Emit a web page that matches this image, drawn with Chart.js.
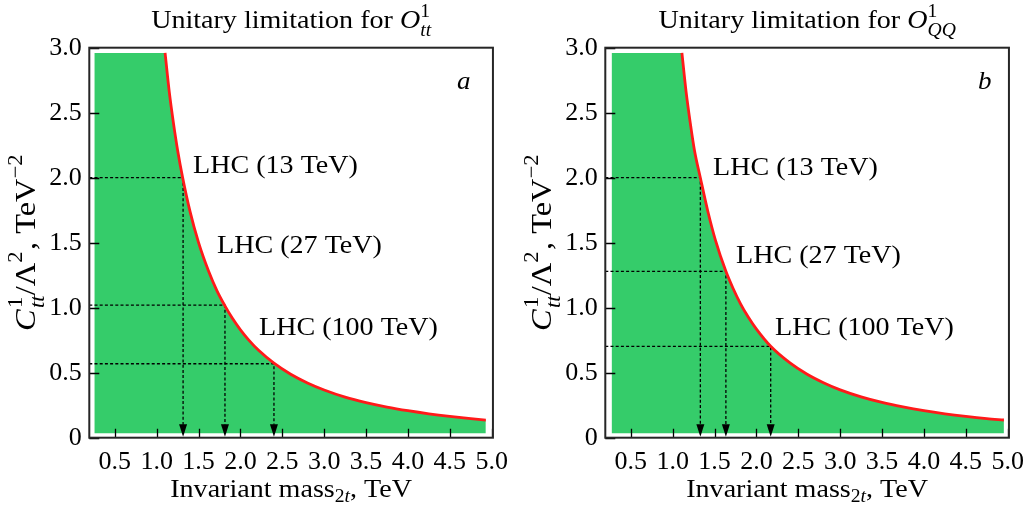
<!DOCTYPE html>
<html>
<head>
<meta charset="utf-8">
<script src="https://cdn.jsdelivr.net/npm/chart.js@4.4.0/dist/chart.umd.min.js"></script>
<style>
html, body { margin: 0; padding: 0; background: #fff; }
#wrap { position: relative; width: 1034px; height: 512px; }
canvas { position: absolute; top: 0; }
#ca { left: 0; }
#cb { left: 516px; }
</style>
</head>
<body>
<div id="wrap">
  <canvas id="ca" width="517" height="512"></canvas>
  <canvas id="cb" width="517" height="512"></canvas>
</div>
<script>
// Axis ticks
const xTicks = [0.5, 1.0, 1.5, 2.0, 2.5, 3.0, 3.5, 4.0, 4.5, 5.0];
const yTicks = [0, 0.5, 1.0, 1.5, 2.0, 2.5, 3.0];

// Panel a: unitarity bound curve for O_tt (mass in TeV, C/Lambda^2 in TeV^-2)
const massA = [1.10, 1.15, 1.20, 1.25, 1.31, 1.40, 1.50, 1.62, 1.72, 1.81, 1.90, 2.00, 2.10, 2.22,
               2.40, 2.60, 2.80, 3.00, 3.25, 3.50, 3.75, 4.00, 4.25, 4.50, 4.75, 4.93];
const coefA = [2.96, 2.66, 2.42, 2.21, 2.00, 1.735, 1.50, 1.28, 1.13, 1.02, 0.922, 0.83, 0.751, 0.670,
               0.573, 0.488, 0.421, 0.367, 0.312, 0.270, 0.236, 0.208, 0.184, 0.164, 0.147, 0.136];

// Panel b: unitarity bound curve for O_QQ
const massB = [1.11, 1.16, 1.21, 1.26, 1.33, 1.42, 1.51, 1.635, 1.72, 1.81, 1.90, 2.00, 2.17,
               2.40, 2.60, 2.80, 3.00, 3.25, 3.50, 3.75, 4.00, 4.25, 4.50, 4.75, 4.955];
const coefB = [2.96, 2.66, 2.42, 2.21, 2.00, 1.74, 1.52, 1.28, 1.15, 1.03, 0.93, 0.835, 0.703,
               0.575, 0.49, 0.423, 0.368, 0.314, 0.271, 0.237, 0.208, 0.184, 0.164, 0.147, 0.136];

// LHC energies and the marked points on the curves
const lhcLabels = ['LHC (13 TeV)', 'LHC (27 TeV)', 'LHC (100 TeV)'];
const markMassA = [1.315, 1.815, 2.40];
const markCoefA = [2.0, 1.02, 0.569];
const markMassB = [1.33, 1.635, 2.17];
const markCoefB = [2.0, 1.28, 0.703];

// shaded (allowed) region limits
const fillStartA = 0.255, fillStartB = 0.27;
const fillTop = 2.96, fillBottom = 0.035;

const X_MIN = 0.195, X_MAX = 5.015;
const GREEN = 'rgb(53,204,106)';
const FONT = '"Liberation Serif", "Times New Roman", serif';
const SX = 1.08; // widen Times a bit toward Computer Modern

function fontOf(p, size) {
    const s = p.lv ? size * 0.7 : size;
    return (p.it ? 'italic ' : '') + s + 'px ' + FONT;
}
function widthOf(ctx, p, size) {
    if (p.stack) return Math.max.apply(null, p.stack.map(q => widthOf(ctx, q, size)));
    ctx.font = fontOf(p, size);
    return ctx.measureText(p.t).width * SX + (p.gap || 0) * size;
}
function drawRich(ctx, parts, x, y, size, align) {
    const w = parts.reduce((s, p) => s + widthOf(ctx, p, size), 0);
    let cx = align === 'center' ? x - w / 2 : x;
    ctx.textAlign = 'left';
    ctx.textBaseline = 'alphabetic';
    parts.forEach(p => {
        (p.stack || [p]).forEach(q => {
            ctx.font = fontOf(q, size);
            const dy = q.lv === 'sup' ? -0.42 * size : q.lv === 'sub' ? (p.stack ? 0.3 : 0.2) * size : 0;
            ctx.save();
            ctx.translate(cx, y + dy);
            ctx.scale(SX, 1);
            ctx.fillText(q.t, 0, 0);
            ctx.restore();
        });
        cx += widthOf(ctx, p, size);
    });
}

const yLabel = [{t: 'C', it: true, gap: 0.05}, {stack: [{t: '1', lv: 'sup'}, {t: 'tt', lv: 'sub', it: true}], gap: 0.05},
                {t: '/Λ'}, {t: '2', lv: 'sup', gap: 0.05}, {t: ', TeV'}, {t: '−2', lv: 'sup'}];
const xLabel = [{t: 'Invariant mass'}, {t: '2', lv: 'sub'}, {t: 't', lv: 'sub', it: true}, {t: ', TeV'}];

function makePanel(id, cfg) {
    const decor = {
        id: 'decor',
        afterDraw(chart) {
            const ctx = chart.ctx, a = chart.chartArea;
            const x = chart.scales.x, y = chart.scales.y;
            ctx.save();
            // inward ticks
            ctx.strokeStyle = '#000';
            ctx.lineWidth = 1.3;
            ctx.beginPath();
            xTicks.forEach(v => {
                const px = Math.round(x.getPixelForValue(v)) + 0.5;
                ctx.moveTo(px, a.bottom); ctx.lineTo(px, a.bottom - 9);
            });
            yTicks.forEach(v => {
                const py = Math.round(y.getPixelForValue(v)) + 0.5;
                ctx.moveTo(a.left, py); ctx.lineTo(a.left + 10, py);
            });
            ctx.stroke();
            // arrow heads
            ctx.fillStyle = '#000';
            cfg.markMass.forEach(m => {
                const px = x.getPixelForValue(m), py = y.getPixelForValue(0) - 1;
                ctx.beginPath();
                ctx.moveTo(px - 4, py - 12.5);
                ctx.lineTo(px + 4, py - 12.5);
                ctx.lineTo(px, py);
                ctx.closePath();
                ctx.fill();
            });
            // frame
            ctx.strokeStyle = '#262626';
            ctx.lineWidth = 2;
            ctx.strokeRect(a.left, a.top, a.width, a.height);
            // texts
            ctx.fillStyle = '#000';
            const cx = (a.left + a.right) / 2;
            drawRich(ctx, cfg.title, cx, 28, 26, 'center');
            drawRich(ctx, xLabel, cx, 497, 26, 'center');
            ctx.save();
            ctx.translate(35, (a.top + a.bottom) / 2);
            ctx.rotate(-Math.PI / 2);
            drawRich(ctx, yLabel, 0, 0, 30, 'center');
            ctx.restore();
            lhcLabels.forEach((s, i) => {
                drawRich(ctx, [{t: s}], cfg.labelPos[i][0], cfg.labelPos[i][1], 26, 'left');
            });
            drawRich(ctx, [{t: cfg.letter, it: true}], cfg.letterPos[0], cfg.letterPos[1], 25, 'left');
            ctx.restore();
        }
    };

    const curve = cfg.mass.map((m, i) => ({x: m, y: cfg.coef[i]}));
    const datasets = [{
        data: curve,
        borderColor: '#ff1a1a',
        borderWidth: 2.8,
        pointRadius: 0,
        cubicInterpolationMode: 'monotone',
        fill: false,
        order: 0
    }];
    cfg.markMass.forEach((m, i) => {
        datasets.push({
            data: [{x: X_MIN, y: cfg.markCoef[i]}, {x: m, y: cfg.markCoef[i]}, {x: m, y: 0.1}],
            borderColor: '#000',
            borderWidth: 1.3,
            borderDash: [3, 2.2],
            pointRadius: 0,
            tension: 0,
            fill: false,
            order: 1
        });
    });
    datasets.push({
        data: [{x: cfg.fillStart, y: fillTop}].concat(curve),
        borderWidth: 0,
        borderColor: 'transparent',
        backgroundColor: GREEN,
        pointRadius: 0,
        tension: 0,
        fill: {value: fillBottom},
        order: 2
    });

    new Chart(document.getElementById(id), {
        type: 'line',
        data: {datasets: datasets},
        options: {
            responsive: false,
            animation: false,
            devicePixelRatio: 1,
            events: [],
            layout: {padding: {left: 29.3, top: 47.7, right: 21.3, bottom: 14.3}},
            scales: {
                x: {
                    type: 'linear', min: X_MIN, max: X_MAX,
                    afterBuildTicks: s => { s.ticks = xTicks.map(v => ({value: v})); },
                    afterFit: s => { s.height = 60; },
                    grid: {display: false, drawTicks: false},
                    border: {display: false},
                    ticks: {padding: 9, color: '#000', autoSkip: false, maxRotation: 0,
                            font: {family: FONT, size: 26},
                            callback: v => v.toFixed(1)}
                },
                y: {
                    type: 'linear', min: 0, max: 3,
                    afterBuildTicks: s => { s.ticks = yTicks.map(v => ({value: v})); },
                    afterFit: s => { s.width = 60; },
                    grid: {display: false, drawTicks: false},
                    border: {display: false},
                    ticks: {padding: 7.5, color: '#000', autoSkip: false,
                            font: {family: FONT, size: 26},
                            callback: v => v === 0 ? '0' : v.toFixed(1)}
                }
            },
            plugins: {legend: {display: false}, tooltip: {enabled: false}}
        },
        plugins: [decor]
    });
}

makePanel('ca', {
    mass: massA, coef: coefA, markMass: markMassA, markCoef: markCoefA, fillStart: fillStartA,
    title: [{t: 'Unitary limitation for '}, {t: 'O', it: true},
            {stack: [{t: '1', lv: 'sup'}, {t: 'tt', lv: 'sub', it: true}]}],
    letter: 'a', letterPos: [457, 89],
    labelPos: [[193, 173], [217, 253], [259, 335]]
});
makePanel('cb', {
    mass: massB, coef: coefB, markMass: markMassB, markCoef: markCoefB, fillStart: fillStartB,
    title: [{t: 'Unitary limitation for '}, {t: 'O', it: true},
            {stack: [{t: '1', lv: 'sup'}, {t: 'QQ', lv: 'sub', it: true}]}],
    letter: 'b', letterPos: [462, 89],
    labelPos: [[197, 175], [220, 263], [259, 335]]
});
</script>
</body>
</html>
